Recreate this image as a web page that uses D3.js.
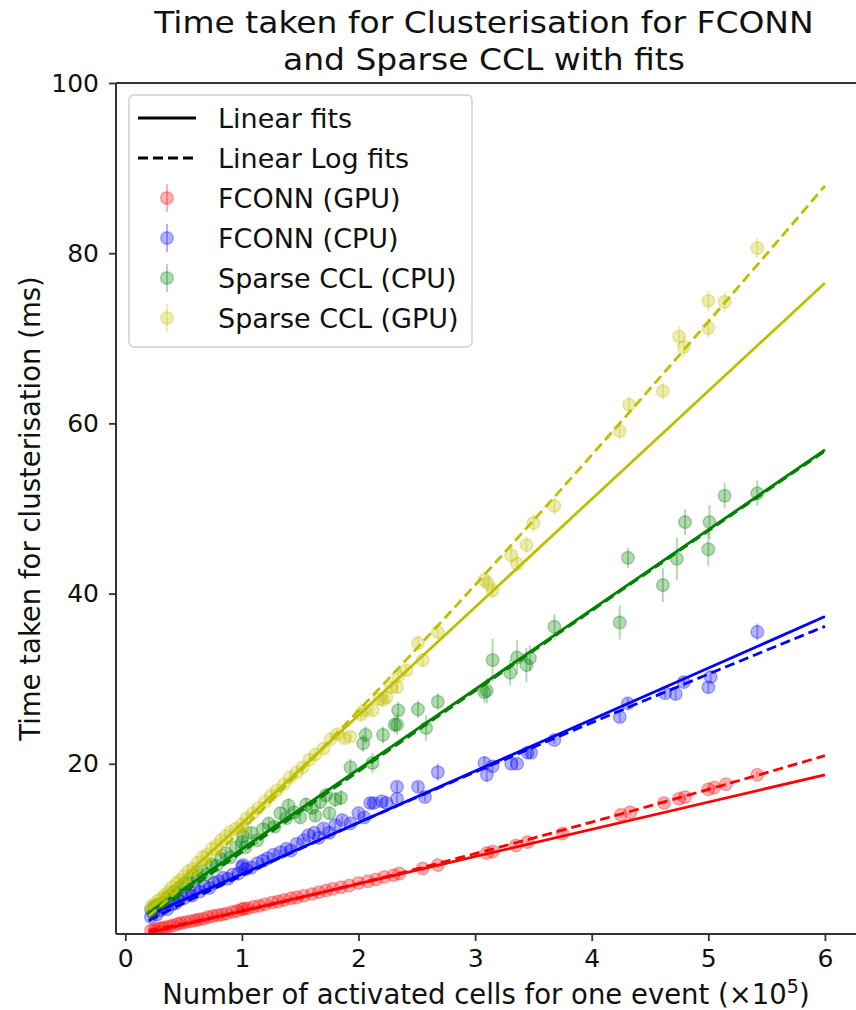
<!DOCTYPE html>
<html>
<head>
<meta charset="utf-8">
<script src="https://cdn.jsdelivr.net/npm/d3@7"></script>
<style>
  html, body { margin: 0; padding: 0; background: #fff; }
  svg { display: block; font-family: "DejaVu Sans", sans-serif; }
</style>
</head>
<body>
<svg id="chart" width="856" height="1010"></svg>
<script>
// ---- Data (x in units of 1e5 activated cells, y in ms, err = error bar half-length) ----
const seriesNames = ["FCONN (GPU)", "FCONN (CPU)", "Sparse CCL (CPU)", "Sparse CCL (GPU)"];
const seriesColors = ["#ff0000", "#0000ff", "#008000", "#bfbf00"];

const fconnGpu = [[0.22,0.4,0.2],[0.25,0.5,0.2],[0.28,0.6,0.2],[0.31,0.7,0.2],[0.34,0.8,0.2],[0.38,0.9,0.2],[0.41,1.0,0.2],[0.45,1.2,0.2],[0.48,1.3,0.2],[0.52,1.4,0.2],[0.56,1.5,0.2],[0.6,1.6,0.2],[0.63,1.7,0.2],[0.67,1.8,0.2],[0.71,2.0,0.2],[0.75,2.1,0.2],[0.79,2.2,0.2],[0.83,2.3,0.2],[0.87,2.4,0.2],[0.92,2.6,0.2],[0.96,2.7,0.2],[1.0,2.9,0.3],[1.02,3.0,0.3],[1.05,3.0,0.2],[1.1,3.2,0.2],[1.15,3.3,0.2],[1.2,3.5,0.2],[1.26,3.7,0.2],[1.31,3.8,0.2],[1.36,4.0,0.2],[1.42,4.2,0.2],[1.47,4.3,0.2],[1.53,4.5,0.2],[1.6,4.7,0.2],[1.66,4.9,0.2],[1.72,5.1,0.2],[1.78,5.3,0.2],[1.85,5.5,0.2],[1.92,5.7,0.2],[2.0,6.0,0.3],[2.08,6.2,0.2],[2.15,6.4,0.2],[2.22,6.7,0.2],[2.3,6.9,0.2],[2.35,7.1,0.3],[2.55,7.7,0.3],[2.68,8.1,0.3],[3.1,9.5,0.3],[3.15,9.7,0.3],[3.35,10.4,0.3],[3.45,10.8,0.3],[3.75,11.8,0.3],[4.25,14.0,0.3],[4.33,14.3,0.3],[4.62,15.4,0.3],[4.75,15.9,0.3],[4.8,16.1,0.3],[5.0,17.0,0.3],[5.05,17.2,0.3],[5.15,17.6,0.3],[5.42,18.7,0.4]];

const fconnCpu = [[0.22,2.0,0.3],[0.24,2.5,0.3],[0.27,2.3,0.3],[0.3,2.8,0.3],[0.33,3.1,0.3],[0.36,2.9,0.3],[0.4,3.5,0.3],[0.43,3.6,0.3],[0.46,4.0,0.3],[0.5,4.2,0.3],[0.53,4.7,0.3],[0.57,4.5,0.3],[0.6,5.2,0.3],[0.64,5.0,0.3],[0.68,5.6,0.3],[0.72,5.4,0.3],[0.76,6.0,0.3],[0.8,6.2,0.3],[0.84,6.6,0.3],[0.88,6.5,0.3],[0.92,7.0,0.3],[0.97,7.1,0.3],[1.0,7.9,0.5],[1.01,8.1,0.5],[1.03,7.6,0.4],[1.08,7.8,0.3],[1.13,8.3,0.3],[1.18,8.6,0.3],[1.22,8.9,0.3],[1.27,9.3,0.3],[1.33,9.6,0.3],[1.38,10.0,0.4],[1.42,9.8,0.3],[1.47,10.6,0.4],[1.53,11.0,0.4],[1.57,11.6,0.5],[1.62,11.9,0.4],[1.66,11.3,0.4],[1.7,12.4,0.5],[1.75,11.9,0.4],[1.8,12.8,0.5],[1.86,13.4,0.5],[1.93,13.0,0.5],[2.0,14.2,0.5],[2.05,13.7,0.5],[2.1,15.4,0.6],[2.13,15.4,0.6],[2.2,15.6,0.5],[2.24,15.4,0.5],[2.33,17.3,0.6],[2.33,15.9,0.5],[2.51,17.3,0.6],[2.57,16.1,0.5],[2.68,19.0,1.0],[3.08,20.1,0.8],[3.1,18.7,0.8],[3.15,19.7,0.6],[3.31,20.0,0.6],[3.36,20.0,0.6],[3.45,21.3,0.6],[3.48,21.3,0.6],[3.68,22.8,0.5],[4.24,25.5,0.6],[4.31,27.1,0.6],[4.63,28.3,0.6],[4.72,28.2,0.6],[4.79,29.6,0.6],[5.0,29.0,0.7],[5.02,30.2,0.7],[5.42,35.5,1.0]];

const sparseCpu = [[0.22,2.8,0.3],[0.25,3.2,0.3],[0.28,3.4,0.3],[0.31,3.6,0.3],[0.35,4.2,0.3],[0.38,4.5,0.3],[0.42,5.0,0.4],[0.46,5.3,0.4],[0.5,5.8,0.4],[0.54,6.0,0.4],[0.58,6.9,0.4],[0.62,6.6,0.4],[0.66,7.4,0.4],[0.7,7.0,0.4],[0.74,8.2,0.5],[0.78,8.0,0.5],[0.82,8.8,0.5],[0.86,9.5,0.5],[0.9,9.0,0.5],[0.95,10.2,0.5],[1.0,10.8,0.6],[1.01,11.5,0.6],[1.03,10.2,0.5],[1.08,11.9,0.6],[1.13,11.0,0.5],[1.18,12.3,0.6],[1.23,13.0,0.6],[1.28,12.6,0.6],[1.33,14.2,0.7],[1.38,13.6,0.6],[1.4,15.1,0.8],[1.45,14.3,0.7],[1.5,13.7,0.6],[1.55,15.2,0.8],[1.6,14.8,0.7],[1.63,13.9,0.6],[1.67,15.5,0.8],[1.72,16.3,0.9],[1.75,14.2,0.7],[1.8,15.8,0.9],[1.85,16.0,0.9],[1.93,19.6,1.0],[2.04,22.4,1.0],[2.06,23.4,1.0],[2.12,20.1,1.2],[2.21,23.4,1.0],[2.31,24.6,1.0],[2.33,24.6,1.2],[2.34,26.3,1.0],[2.51,26.4,1.0],[2.58,24.2,1.5],[2.68,27.3,1.0],[3.08,28.4,1.2],[3.1,28.6,1.5],[3.15,32.2,2.5],[3.3,30.7,1.5],[3.36,32.5,2.0],[3.44,31.6,2.0],[3.47,32.4,1.5],[3.68,36.1,1.5],[4.24,36.6,2.0],[4.31,44.2,1.2],[4.61,41.0,2.0],[4.73,44.1,2.5],[4.8,48.4,1.5],[5.0,45.2,2.0],[5.01,48.4,2.0],[5.14,51.5,1.5],[5.42,51.8,1.5]];

const sparseGpu = [[0.22,3.2,0.3],[0.25,3.5,0.3],[0.28,3.9,0.3],[0.31,4.2,0.3],[0.34,4.6,0.3],[0.37,5.0,0.3],[0.4,5.5,0.3],[0.44,6.0,0.3],[0.47,6.3,0.3],[0.5,6.8,0.3],[0.54,7.4,0.4],[0.58,7.7,0.4],[0.62,8.4,0.4],[0.66,9.0,0.4],[0.7,9.3,0.4],[0.74,10.0,0.4],[0.78,10.4,0.4],[0.82,11.0,0.4],[0.86,11.5,0.4],[0.9,12.0,0.4],[0.95,12.4,0.5],[1.0,12.9,0.5],[1.01,12.4,0.5],[1.04,13.6,0.5],[1.09,14.2,0.5],[1.14,14.8,0.5],[1.2,15.6,0.5],[1.25,16.3,0.5],[1.3,16.9,0.5],[1.36,17.6,0.5],[1.41,18.4,0.5],[1.47,19.0,0.6],[1.52,19.6,0.6],[1.58,20.5,0.6],[1.63,21.1,0.6],[1.7,21.8,0.6],[1.76,22.9,0.6],[1.82,23.5,0.6],[1.88,23.0,0.6],[1.93,23.2,0.6],[2.02,25.8,0.7],[2.05,26.3,0.7],[2.12,26.3,0.7],[2.18,27.6,0.7],[2.21,27.5,0.7],[2.24,27.8,0.7],[2.28,29.0,0.7],[2.33,29.0,0.7],[2.34,30.3,0.7],[2.41,31.0,0.7],[2.51,34.2,0.8],[2.55,32.2,0.8],[2.68,35.5,0.8],[3.08,41.6,1.0],[3.11,41.2,1.0],[3.15,40.4,1.0],[3.31,44.5,1.0],[3.36,43.5,1.0],[3.44,45.7,1.0],[3.5,48.3,1.0],[3.68,50.3,1.0],[4.24,59.1,1.0],[4.32,62.2,1.0],[4.61,63.8,1.0],[4.75,70.2,1.2],[4.79,69.0,1.2],[5.0,71.2,1.2],[5.0,74.4,1.2],[5.14,74.3,1.2],[5.42,80.6,1.2]];

// Linear fits: y = slope*x + intercept
const linSlope = [3.2, 6.05, 9.38, 12.7];
const linIntercept = [-0.5, 1.0, 0.6, 0.3];
// Linear log (power-law) fits: y = a * x^b
const powA = [2.67, 6.88, 9.63, 12.25];
const powB = [1.15, 0.926, 0.99, 1.10];
const fitRange = [0.2, 6.0];

const xTicks = [0, 1, 2, 3, 4, 5, 6];
const yTicks = [20, 40, 60, 80, 100];

const titleLines = ["Time taken for Clusterisation for FCONN", "and Sparse CCL with fits"];
const xLabel = "Number of activated cells for one event (\u00d710";
const yLabel = "Time taken for clusterisation (ms)";

// ---- Layout ----
const svg = d3.select("#chart");
const mLeft = 116, mTop = 83, mBottom = 934;
const x = d3.scaleLinear().domain([-0.08, 6.3]).range([mLeft, mLeft + 6.38 * 116.6]);
const y = d3.scaleLinear().domain([0, 100]).range([mBottom, mTop]);
const mRight = x.range()[1];

const allSeries = [fconnGpu, fconnCpu, sparseCpu, sparseGpu];

svg.append("defs").append("clipPath").attr("id", "clip")
  .append("rect").attr("x", mLeft).attr("y", mTop).attr("width", mRight - mLeft).attr("height", mBottom - mTop);

const plot = svg.append("g").attr("clip-path", "url(#clip)");

// points with error bars
allSeries.forEach((pts, i) => {
  const g = plot.append("g");
  g.selectAll("line.err").data(pts).join("line")
    .attr("x1", d => x(d[0])).attr("x2", d => x(d[0]))
    .attr("y1", d => y(d[1] - d[2])).attr("y2", d => y(d[1] + d[2]))
    .attr("stroke", seriesColors[i]).attr("stroke-opacity", 0.3).attr("stroke-width", 2);
  g.selectAll("circle").data(pts).join("circle")
    .attr("cx", d => x(d[0])).attr("cy", d => y(d[1])).attr("r", 6.3)
    .attr("fill", seriesColors[i]).attr("fill-opacity", 0.3)
    .attr("stroke", seriesColors[i]).attr("stroke-opacity", 0.3).attr("stroke-width", 1.5);
});

// fit lines
const xs = d3.range(fitRange[0], fitRange[1] + 1e-9, 0.05);
const line = d3.line().x(d => x(d[0])).y(d => y(d[1]));
seriesColors.forEach((c, i) => {
  plot.append("path")
    .attr("d", line(fitRange.map(v => [v, linSlope[i] * v + linIntercept[i]])))
    .attr("fill", "none").attr("stroke", c).attr("stroke-width", 2.8);
  plot.append("path")
    .attr("d", line(xs.map(v => [v, powA[i] * Math.pow(v, powB[i])])))
    .attr("fill", "none").attr("stroke", c).attr("stroke-width", 2.8)
    .attr("stroke-dasharray", "10,5");
});

// axes
const tickFont = 25;
const xAxis = svg.append("g").attr("transform", `translate(0,${mBottom})`)
  .call(d3.axisBottom(x).tickValues(xTicks).tickFormat(d3.format("d")).tickSizeOuter(0).tickSize(7).tickPadding(8));
const yAxis = svg.append("g").attr("transform", `translate(${mLeft},0)`)
  .call(d3.axisLeft(y).tickValues(yTicks).tickFormat(d3.format("d")).tickSizeOuter(0).tickSize(7).tickPadding(10));
[xAxis, yAxis].forEach(a => {
  a.select(".domain").remove();
  a.selectAll(".tick line").attr("stroke", "#333").attr("stroke-width", 1.8);
  a.selectAll(".tick text").attr("font-size", tickFont).attr("fill", "#111")
    .attr("font-family", "DejaVu Sans");
});

// spines
const spine = svg.append("g").attr("stroke", "#333").attr("stroke-width", 2).attr("fill", "none");
spine.append("line").attr("x1", mLeft).attr("x2", mLeft).attr("y1", mTop).attr("y2", mBottom);
spine.append("line").attr("x1", mLeft).attr("x2", mRight).attr("y1", mTop).attr("y2", mTop);
spine.append("line").attr("x1", mLeft).attr("x2", mRight).attr("y1", mBottom).attr("y2", mBottom);
spine.append("line").attr("x1", mRight).attr("x2", mRight).attr("y1", mTop).attr("y2", mBottom);

// title (slightly widened glyphs, as in the reference)
const cx = (mLeft + mRight) / 2;
svg.append("g").selectAll("text").data(titleLines).join("text")
  .attr("x", cx - 4).attr("y", (d, i) => 33 + i * 37)
  .attr("text-anchor", "middle").attr("font-size", 30.5).attr("fill", "#111")
  .text(d => d)
  .each(function() {
    const w = this.getComputedTextLength();
    d3.select(this).attr("textLength", w * 1.08).attr("lengthAdjust", "spacingAndGlyphs");
  });

// x label with superscript
const xl = svg.append("text").attr("x", cx - 2).attr("y", 1004).attr("text-anchor", "middle")
  .attr("font-size", 27.5).attr("fill", "#111");
xl.append("tspan").text(xLabel);
xl.append("tspan").attr("dy", -11).attr("font-size", 19).text("5");
xl.append("tspan").attr("dy", 11).text(")");

// y label
svg.append("text").attr("transform", `translate(40,${(mTop + mBottom) / 2}) rotate(-90)`)
  .attr("text-anchor", "middle").attr("font-size", 27.5).attr("fill", "#111").text(yLabel);

// legend
const lg = svg.append("g");
lg.append("rect").attr("x", 129).attr("y", 95).attr("width", 343).attr("height", 252).attr("rx", 5)
  .attr("fill", "#fff").attr("fill-opacity", 0.8).attr("stroke", "#d0d0d0").attr("stroke-width", 1.5);
const rowY = i => 118 + i * 40;
const legendItems = [
  {label: "Linear fits", type: "solid"},
  {label: "Linear Log fits", type: "dash"},
  ...seriesNames.map((n, i) => ({label: n, type: "pt", color: seriesColors[i]}))
];
legendItems.forEach((it, i) => {
  const yy = rowY(i);
  if (it.type === "solid" || it.type === "dash") {
    lg.append("line").attr("x1", 138).attr("x2", 196).attr("y1", yy).attr("y2", yy)
      .attr("stroke", "#000").attr("stroke-width", 2.8)
      .attr("stroke-dasharray", it.type === "dash" ? "10,5" : null);
  } else {
    lg.append("line").attr("x1", 167).attr("x2", 167).attr("y1", yy - 14).attr("y2", yy + 14)
      .attr("stroke", it.color).attr("stroke-opacity", 0.3).attr("stroke-width", 2);
    lg.append("circle").attr("cx", 167).attr("cy", yy).attr("r", 6.3)
      .attr("fill", it.color).attr("fill-opacity", 0.3)
      .attr("stroke", it.color).attr("stroke-opacity", 0.3).attr("stroke-width", 1.5);
  }
  lg.append("text").attr("x", 218).attr("y", yy + 10).attr("font-size", 27).attr("fill", "#111").text(it.label);
});
</script>
</body>
</html>
